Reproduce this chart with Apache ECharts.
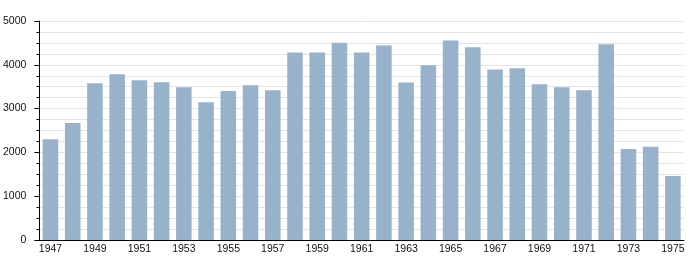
<!DOCTYPE html>
<html>
<head>
<meta charset="utf-8">
<script src="https://cdn.jsdelivr.net/npm/echarts@6/dist/echarts.min.js"></script>
<style>
html,body{margin:0;padding:0;background:#fff;}
#chart{width:700px;height:280px;}
</style>
</head>
<body>
<div id="chart"></div>
<script>
const years = ['1947','1948','1949','1950','1951','1952','1953','1954','1955','1956','1957','1958','1959','1960','1961','1962','1963','1964','1965','1966','1967','1968','1969','1970','1971','1972','1973','1974','1975'];
const values = [2300,2670,3580,3785,3650,3600,3490,3145,3400,3535,3420,4280,4280,4505,4280,4440,3595,3990,4555,4400,3890,3920,3555,3490,3420,4470,2075,2130,1460];
const yTicks = [0,1000,2000,3000,4000,5000];

const chart = echarts.init(document.getElementById('chart'), null, {renderer:'canvas'});
const font = '"Liberation Sans", Arial, Helvetica, sans-serif';
chart.setOption({
  animation:false,
  backgroundColor:'#fff',
  grid:{left:38,right:16,top:21,bottom:40,containLabel:false},
  xAxis:{
    type:'category',
    data:years,
    boundaryGap:true,
    axisLine:{show:true,lineStyle:{color:'#000',width:1}},
    axisTick:{show:false},
    axisLabel:{interval:1,fontSize:10.5,color:'#111',margin:4,fontFamily:font}
  },
  yAxis:{
    type:'value',
    min:yTicks[0],
    max:yTicks[yTicks.length-1],
    interval:1000,
    axisLine:{show:true,lineStyle:{color:'#000',width:1}},
    axisTick:{show:true,length:5,lineStyle:{color:'#000'}},
    minorTick:{show:true,splitNumber:4,length:3,lineStyle:{color:'#000'}},
    splitLine:{show:true,lineStyle:{color:'#e4e4e4',width:1}},
    minorSplitLine:{show:true,lineStyle:{color:'#e4e4e4',width:1}},
    axisLabel:{fontSize:10.5,color:'#111',margin:13,fontFamily:font,formatter:function(v){return String(v);}}
  },
  series:[{
    type:'bar',
    data:values,
    barCategoryGap:'30%',
    itemStyle:{color:'#98b2cc'}
  }]
});
</script>
</body>
</html>
